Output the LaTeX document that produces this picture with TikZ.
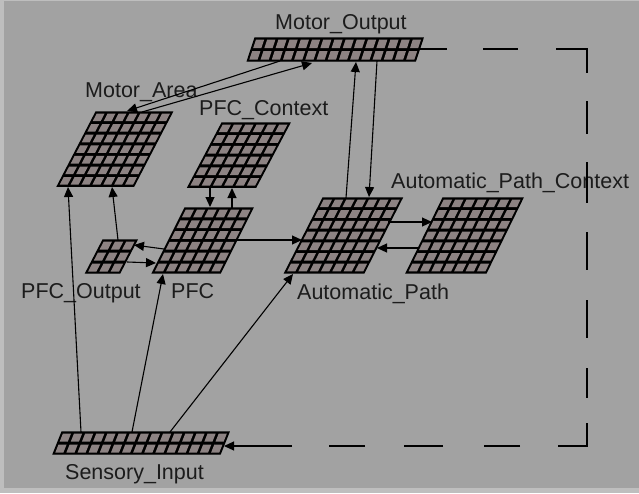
\documentclass[tikz,border=0pt]{standalone}
\usepackage{fontspec}
\setmainfont{Liberation Sans}
\usepackage{xcolor}
\usepackage{tikz}
\usetikzlibrary{arrows.meta, positioning}

\definecolor{panelgray}{HTML}{A2A2A2}
\definecolor{framegray}{HTML}{BEBEBE}
\definecolor{cellgray}{HTML}{8D8383}
\definecolor{labelink}{HTML}{1C1C1C}

% slanted grid of units: left x, top y, columns, rows, cell width, row height, slant
\newcommand{\unitlayer}[7]{%
    \filldraw[black, line width=1.4pt] (#1,#2) -- ({#1+#3*#5},#2)
        -- ({#1+#3*#5-#4*#6*#7},{#2+#4*#6}) -- ({#1-#4*#6*#7},{#2+#4*#6}) -- cycle;
    \foreach \r in {1,...,#4}{
        \foreach \c in {1,...,#3}{
            \fill[unitcell] ({#1+(\c-1)*#5+1.5-((\r-1)*#6+1.5)*#7},{#2+(\r-1)*#6+1.5})
                -- ++({#5-3},0) -- ++({-(#6-3)*#7},{#6-3}) -- ++({3-#5},0) -- cycle;
        }
    }
}

\begin{document}
\begin{tikzpicture}[x=1pt, y=-1pt,
        lbl/.style={anchor=base west, inner sep=0pt, text=labelink,
            font=\fontsize{21.5}{24}\selectfont},
        prj/.style={line width=1.1pt, -{Triangle[length=10pt, width=9pt]}},
        unitcell/.style={fill=cellgray}]
        % Background
        \useasboundingbox (0,0) rectangle (639,493);
        \fill[framegray] (0,0) rectangle (639,493);
        \fill[panelgray] (4,1) rectangle (639,488);

        % Layers
        \unitlayer{255}{38}{15}{2}{11.2}{11.5}{0.33}   % Motor_Output
        \unitlayer{96}{112}{7}{7}{10.9}{10.6}{0.52}    % Motor_Area
        \unitlayer{222}{123}{6}{6}{11.3}{10.7}{0.53}   % PFC_Context
        \unitlayer{185}{208}{6}{6}{11.3}{10.8}{0.5}    % PFC
        \unitlayer{103}{240}{3}{3}{11.3}{11}{0.52}     % PFC_Output
        \unitlayer{323}{198}{7}{7}{11.3}{10.7}{0.51}   % Automatic_Path
        \unitlayer{443}{198}{7}{7}{11.4}{10.7}{0.49}   % Automatic_Path_Context
        \unitlayer{62}{432}{15}{2}{11.13}{11}{0.4}     % Sensory_Input

        % Labels
        \node[lbl] (moutlbl) at (275,29) {Motor\_Output};
        \node[lbl] (marealbl) at (85,97) {Motor\_Area};
        \node[lbl] (pfcctxlbl) at (199,115) {PFC\_Context};
        \node[lbl] (apctxlbl) at (391,188) {Automatic\_Path\_Context};
        \node[lbl] (pfcoutlbl) at (21,298) {PFC\_Output};
        \node[lbl] (pfclbl) at (171,298) {PFC};
        \node[lbl] (apathlbl) at (297,299) {Automatic\_Path};
        \node[lbl] (senslbl) at (65,479) {Sensory\_Input};

        % Ports on the layers
        \coordinate (mout-a) at (280,61);
        \coordinate (mout-b) at (312,63);
        \coordinate (mout-c) at (356,62);
        \coordinate (mout-d) at (377,61);
        \coordinate (mout-e) at (420,49);
        \coordinate (marea-a) at (127,111);
        \coordinate (marea-b) at (142,112);
        \coordinate (marea-c) at (68,187);
        \coordinate (marea-d) at (112,187);
        \coordinate (pfcctx-a) at (210,187);
        \coordinate (pfcctx-b) at (232,188);
        \coordinate (pfc-a) at (210,207);
        \coordinate (pfc-b) at (232,208);
        \coordinate (pfc-c) at (164,249);
        \coordinate (pfc-d) at (156,263);
        \coordinate (pfc-e) at (237,240);
        \coordinate (pfc-f) at (163,274);
        \coordinate (pfcout-a) at (118,240);
        \coordinate (pfcout-b) at (134,245);
        \coordinate (pfcout-c) at (127,262);
        \coordinate (apath-a) at (346,198);
        \coordinate (apath-b) at (369,197);
        \coordinate (apath-c) at (302,240);
        \coordinate (apath-d) at (388,222);
        \coordinate (apath-e) at (377,248);
        \coordinate (apath-f) at (293,274);
        \coordinate (apctx-a) at (432,222);
        \coordinate (apctx-b) at (418,248);
        \coordinate (sens-a) at (81,432);
        \coordinate (sens-b) at (132,432);
        \coordinate (sens-c) at (170,432);
        \coordinate (sens-d) at (224,446);
        \coordinate (loop-ne) at (587,49);
        \coordinate (loop-se) at (587,446);

        % Projections
        \draw[prj] (mout-a) -- (marea-a);
        \draw[prj] (marea-b) -- (mout-b);
        \draw[prj] (apath-a) -- (mout-c);
        \draw[prj] (mout-d) -- (apath-b);
        \draw[prj] (sens-a) -- (marea-c);
        \draw[prj] (pfcout-a) -- (marea-d);
        \draw[prj] (pfcctx-a) -- (pfc-a);
        \draw[prj] (pfc-b) -- (pfcctx-b);
        \draw[prj] (pfc-c) -- (pfcout-b);
        \draw[prj] (pfcout-c) -- (pfc-d);
        \draw[prj] (pfc-e) -- (apath-c);
        \draw[prj] (apath-d) -- (apctx-a);
        \draw[prj] (apctx-b) -- (apath-e);
        \draw[prj] (sens-b) -- (pfc-f);
        \draw[prj] (sens-c) -- (apath-f);

        % Feedback loop
        \draw[prj, dash pattern=on 27pt off 36pt on 35pt off 38pt on 55pt off 28pt
                on 33pt off 28pt on 41pt off 29pt on 38pt off 30pt on 38pt off 30pt
                on 30pt off 25pt on 52pt off 38pt on 36pt off 41pt on 39pt off 39pt
                on 36pt off 37pt on 80pt off 10pt]
            (mout-e) -- (loop-ne) -- (loop-se) -- (sens-d);
    \end{tikzpicture}
\end{document}
